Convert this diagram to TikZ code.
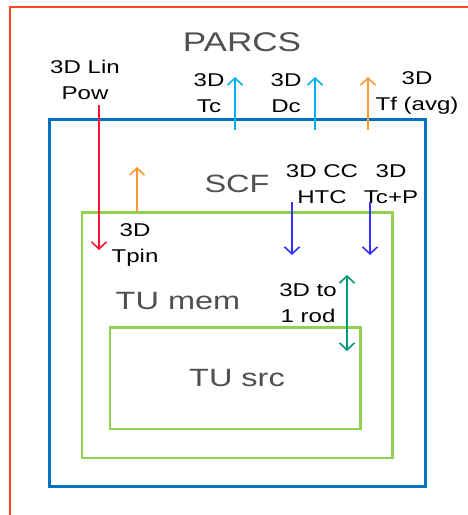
\documentclass[tikz,border=0pt]{standalone}
\usepackage{fontspec}
\setmainfont{Liberation Sans}[FakeStretch=1.3]
\usepackage{tikz}
\usetikzlibrary{arrows.meta, positioning}
\usepackage{xcolor}

\definecolor{parcsred}{RGB}{255,72,36}
\definecolor{scfblue}{RGB}{0,112,192}
\definecolor{tugreen}{RGB}{146,208,80}
\definecolor{powred}{RGB}{250,20,50}
\definecolor{tcyan}{RGB}{0,176,240}
\definecolor{tforange}{RGB}{255,153,51}
\definecolor{ccblue}{RGB}{51,51,255}
\definecolor{rodteal}{RGB}{0,153,122}
\definecolor{ttlgray}{RGB}{80,80,80}

\tikzset{
  lbl/.style={font=\fontsize{18.5}{25.5}\selectfont, align=center, inner sep=0pt, text=black},
  ttl/.style={font=\fontsize{25}{30}\selectfont, inner sep=0pt, text=ttlgray},
  flow/.style={line width=1.6pt, -{Straight Barb[length=7pt,width=15pt]}},
}

\begin{document}
\begin{tikzpicture}[x=1pt,y=-1pt]

  \useasboundingbox (0,0) rectangle (468,515);
  \clip (0,0) rectangle (468,515);

  % PARCS (runs off the page to the right and bottom)
  \draw[parcsred, line width=2.4pt] (10,7) rectangle (500,560);
  \node[ttl, font=\fontsize{27}{32}\selectfont] (parcs) at (242,42) {PARCS};

  % SCF
  \draw[scfblue, line width=3pt] (49.5,119) rectangle (425,486.5);
  \node[ttl] (scf) at (237,184) {SCF};

  % TU mem and TU src
  \draw[tugreen, line width=2.6pt] (82,212.5) rectangle (392.5,458);
  \node[ttl] (tumem) at (178,301) {TU mem};
  \draw[tugreen, line width=2.6pt] (110,327.5) rectangle (360.5,429);
  \node[ttl] (tusrc) at (237,378) {TU src};

  % PARCS <-> SCF
  \node[lbl] (linpow) at (85,80) {3D Lin\\Pow};
  \coordinate (pow-a) at (99,105);
  \coordinate (pow-b) at (99,250);
  \draw[flow, powred] (pow-a) -- (pow-b);

  \node[lbl] (tc) at (209,93) {3D\\Tc};
  \coordinate (tc-a) at (235,130);
  \coordinate (tc-b) at (235,77);
  \draw[flow, tcyan] (tc-a) -- (tc-b);

  \node[lbl] (dc) at (286,93) {3D\\Dc};
  \coordinate (dc-a) at (315,130);
  \coordinate (dc-b) at (315,77);
  \draw[flow, tcyan] (dc-a) -- (dc-b);

  \node[lbl] (tf) at (417,93) {3D\\Tf (avg)};
  \coordinate (tf-a) at (368,130);
  \coordinate (tf-b) at (368,77);
  \draw[flow, tforange] (tf-a) -- (tf-b);

  % SCF <-> TU mem
  \node[lbl] (tpin) at (135,245) {3D\\Tpin};
  \coordinate (tpin-a) at (137,212);
  \coordinate (tpin-b) at (137,167);
  \draw[flow, tforange] (tpin-a) -- (tpin-b);

  \node[lbl] (htc) at (322,184) {3D CC\\HTC};
  \coordinate (htc-a) at (292,202);
  \coordinate (htc-b) at (292,255);
  \draw[flow, ccblue] (htc-a) -- (htc-b);

  \node[lbl] (tcp) at (391,184) {3D\\Tc+P};
  \coordinate (tcp-a) at (370,202);
  \coordinate (tcp-b) at (370,255);
  \draw[flow, ccblue] (tcp-a) -- (tcp-b);

  % TU mem <-> TU src
  \node[lbl] (rod) at (308,303) {3D to\\1 rod};
  \coordinate (rod-a) at (347,275);
  \coordinate (rod-b) at (347,351);
  \draw[flow, rodteal, {Straight Barb[length=7pt,width=15pt]}-{Straight Barb[length=7pt,width=15pt]}] (rod-a) -- (rod-b);

\end{tikzpicture}
\end{document}
